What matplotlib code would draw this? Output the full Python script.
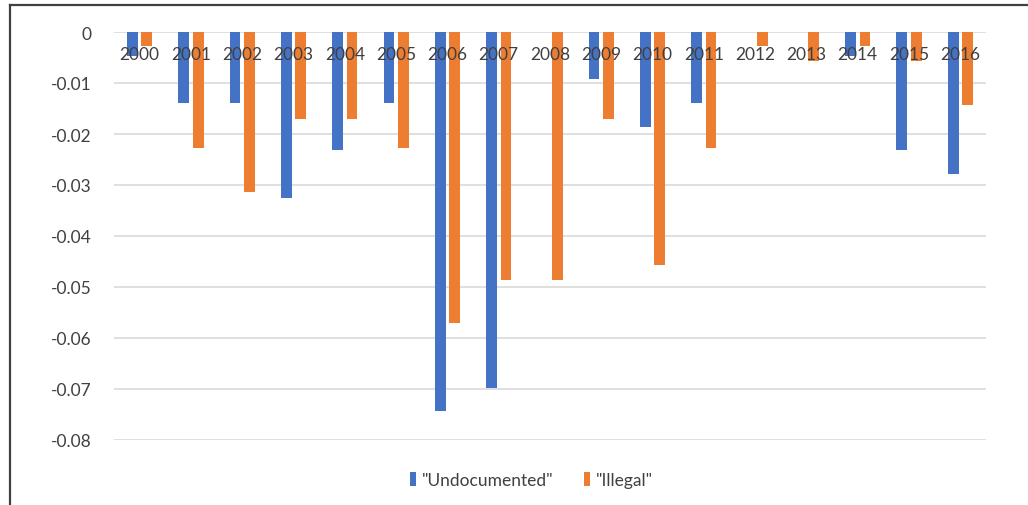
import numpy as np
import matplotlib.pyplot as plt
from matplotlib.lines import Line2D

plt.rcParams['font.family'] = ['Lato', 'DejaVu Sans']

years = [str(y) for y in range(2000, 2017)]
undocumented = [-0.0047, -0.0140, -0.0140, -0.0325, -0.0232, -0.0140, -0.0744, -0.0698, 0.0,
                -0.0093, -0.0186, -0.0140, 0.0, 0.0, -0.0047, -0.0232, -0.0279]
illegal = [-0.0028, -0.0228, -0.0314, -0.0171, -0.0171, -0.0228, -0.0571, -0.0486, -0.0486,
           -0.0171, -0.0457, -0.0228, -0.0028, -0.0057, -0.0028, -0.0057, -0.0143]
yticks = [0, -0.01, -0.02, -0.03, -0.04, -0.05, -0.06, -0.07, -0.08]

blue = '#4472C4'
orange = '#ED7D31'

fig = plt.figure(figsize=(10.28, 5.06), dpi=100)
ax = fig.add_axes([114 / 1028, 65 / 506, 872 / 1028, 408 / 506])

x = np.arange(len(years))
w = 0.21
ax.bar(x - 0.14, undocumented, w, color=blue, linewidth=0,
       label='"Undocumented"', zorder=2)
ax.bar(x + 0.14, illegal, w, color=orange, linewidth=0,
       label='"Illegal"', zorder=2)

ax.set_xlim(-0.5, len(years) - 0.5)
ax.set_ylim(-0.08, 0)
ax.set_yticks(yticks)
ax.set_yticklabels(['0' if v == 0 else '%.2f' % v for v in yticks], fontsize=12.5, color='#404040')
ax.tick_params(axis='y', length=0, pad=16)
ax.set_xticks([])
ax.grid(axis='y', color='#D9D9D9', linewidth=1.2, zorder=0)
for s in ax.spines.values():
    s.set_visible(False)

# year labels sit just under the zero line, on top of the bars
for i, yr in enumerate(years):
    ax.annotate(yr, (i, 0), xytext=(0, -16), textcoords='offset points',
                ha='center', va='center', fontsize=12.5, color='#404040', zorder=5)

leg = fig.legend(loc='center', bbox_to_anchor=(0.517, 25 / 506), ncol=2, frameon=False,
                 fontsize=12.5, handlelength=0.35, handleheight=0.9, handletextpad=0.3,
                 columnspacing=1.8)
for t in leg.get_texts():
    t.set_color('#404040')

# outer frame (left and top edges)
fig.add_artist(Line2D([10 / 1028, 10 / 1028], [0, 1 - 6 / 506], transform=fig.transFigure,
                      color='#404040', linewidth=1.6))
fig.add_artist(Line2D([10 / 1028, 1], [1 - 6 / 506, 1 - 6 / 506], transform=fig.transFigure,
                      color='#404040', linewidth=1.6))

fig.savefig('out.png', dpi=100)
